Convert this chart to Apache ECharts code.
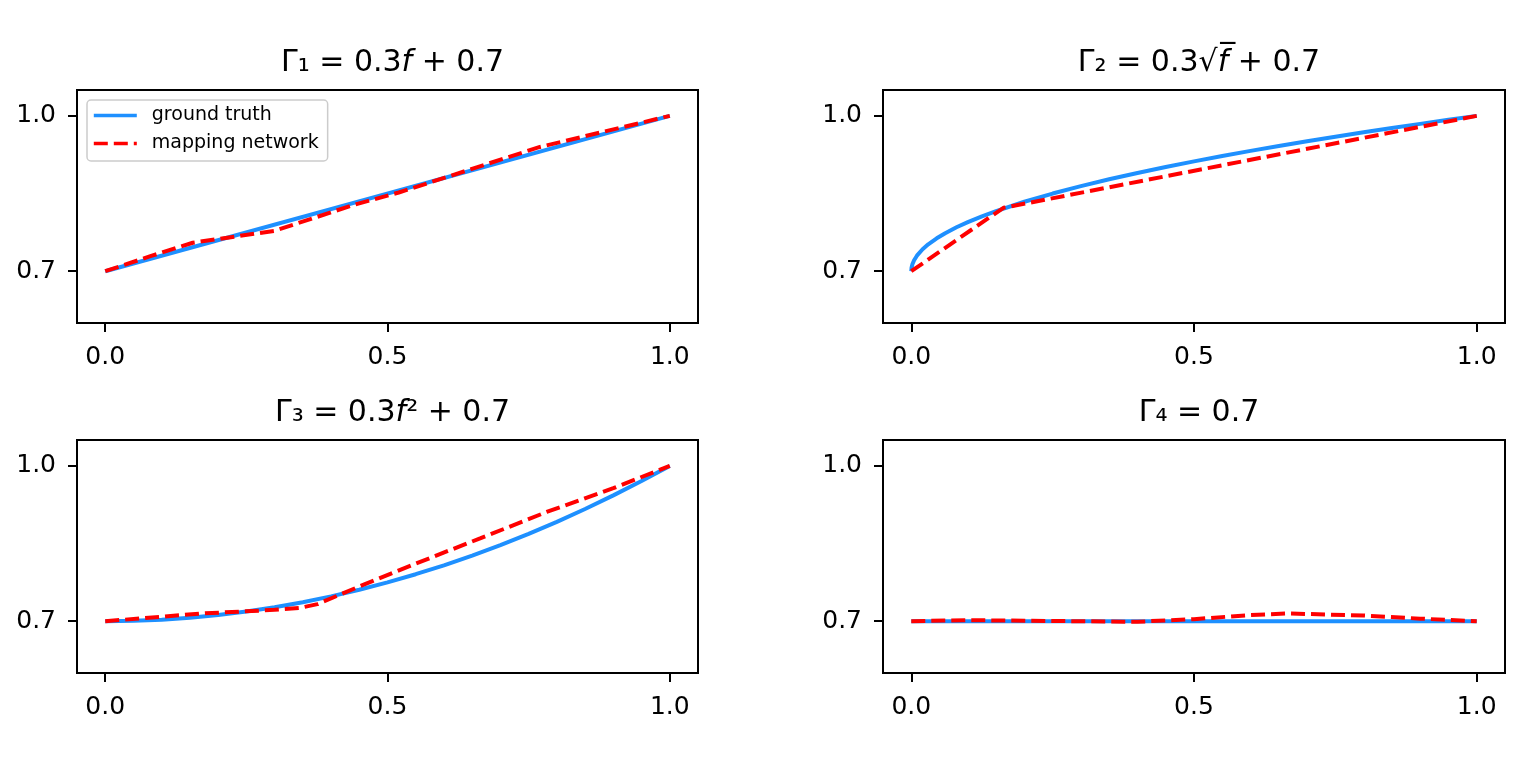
<!DOCTYPE html>
<html>
<head>
<meta charset="utf-8">
<script src="https://cdn.jsdelivr.net/npm/echarts@6/dist/echarts.min.js"></script>
<style>
  html, body { margin: 0; padding: 0; background: #fff; }
  #main { width: 1536px; height: 757px; }
</style>
</head>
<body>
<div id="main"></div>
<script>
// ground truth and network output, one pair per panel
var gt1X = [0, 1.0];
var gt1Y = [0.7, 1.0];
var map1X = [0, 0.08, 0.155, 0.3, 0.44, 0.52, 0.77, 1.0];
var map1Y = [0.7, 0.729, 0.755, 0.778, 0.828, 0.852, 0.94, 1.0];

var gt2X = [0, 0.0005, 0.002, 0.005, 0.01, 0.02, 0.03, 0.045, 0.06, 0.08, 0.1, 0.125, 0.15, 0.2, 0.25,
            0.3, 0.35, 0.4, 0.45, 0.5, 0.55, 0.6, 0.65, 0.7, 0.75, 0.8, 0.85, 0.9, 0.95, 1.0];
var gt2Y = [0.7, 0.7067, 0.7134, 0.7212, 0.73, 0.7424, 0.752, 0.7636, 0.7735, 0.7849, 0.7949, 0.8061, 0.8162, 0.8342, 0.85,
            0.8643, 0.8775, 0.8897, 0.9012, 0.9121, 0.9225, 0.9324, 0.9419, 0.951, 0.9598, 0.9683, 0.9766, 0.9846, 0.9924, 1.0];
var map2X = [0, 0.163, 1.0];
var map2Y = [0.7, 0.8225, 1.0];

var gt3X = [0, 0.05, 0.1, 0.15, 0.2, 0.25, 0.3, 0.35, 0.4, 0.45, 0.5,
            0.55, 0.6, 0.65, 0.7, 0.75, 0.8, 0.85, 0.9, 0.95, 1.0];
var gt3Y = [0.7, 0.7008, 0.703, 0.7068, 0.712, 0.7188, 0.727, 0.7368, 0.748, 0.7608, 0.775,
            0.7908, 0.808, 0.8268, 0.847, 0.8688, 0.892, 0.9168, 0.943, 0.9708, 1.0];
var map3X = [0, 0.17, 0.3, 0.346, 0.376, 0.452, 0.547, 0.664, 0.782, 0.9, 1.0];
var map3Y = [0.7, 0.7148, 0.722, 0.726, 0.733, 0.768, 0.81, 0.86, 0.911, 0.957, 1.0];

var gt4X = [0, 1.0];
var gt4Y = [0.7, 0.7];
var map4X = [0, 0.1, 0.2, 0.3, 0.4, 0.5, 0.6, 0.667, 0.8, 0.9, 1.0];
var map4Y = [0.7, 0.702, 0.701, 0.7, 0.699, 0.704, 0.712, 0.715, 0.711, 0.705, 0.7];

var xTicks = [0, 0.5, 1.0];
var yTicks = [0.7, 1.0];

var titles = [
  '{r|Γ₁ = 0.3}{i|f}{r| + 0.7}',
  '{r|Γ₂ = 0.3√}{i|f̅}{r| + 0.7}',
  '{r|Γ₃ = 0.3}{i|f}{r|² + 0.7}',
  '{r|Γ₄ = 0.7}'
];

var FONT = 'DejaVu Sans';
var BLUE = '#1E90FF';
var RED = '#FF0000';

function zip(xs, ys) {
  return xs.map(function (x, i) { return [x, ys[i]]; });
}

var grids = [
  { left: 77, top: 90, width: 621, height: 233 },
  { left: 883, top: 90, width: 622, height: 233 },
  { left: 77, top: 440, width: 621, height: 233 },
  { left: 883, top: 440, width: 622, height: 233 }
];

var xAxes = [], yAxes = [], series = [], titleList = [];
var gts = [[gt1X, gt1Y], [gt2X, gt2Y], [gt3X, gt3Y], [gt4X, gt4Y]];
var maps = [[map1X, map1Y], [map2X, map2Y], [map3X, map3Y], [map4X, map4Y]];

grids.forEach(function (g, i) {
  g.show = true;
  g.borderColor = '#000';
  g.borderWidth = 2;
  g.containLabel = false;

  xAxes.push({
    type: 'value', gridIndex: i, min: -0.05, max: 1.05, position: 'bottom',
    splitLine: { show: false },
    axisLine: { show: false, onZero: false },
    axisTick: { show: true, length: 9, lineStyle: { color: '#000', width: 2 }, customValues: xTicks },
    axisLabel: {
      customValues: xTicks, margin: 22, color: '#000', fontSize: 25, fontFamily: FONT,
      formatter: function (v) { return v.toFixed(1); }
    }
  });
  yAxes.push({
    type: 'value', gridIndex: i, min: 0.6, max: 1.05, position: 'left',
    splitLine: { show: false },
    axisLine: { show: false, onZero: false },
    axisTick: { show: true, length: 9, lineStyle: { color: '#000', width: 2 }, customValues: yTicks },
    axisLabel: {
      customValues: yTicks, margin: 21, color: '#000', fontSize: 25, fontFamily: FONT,
      formatter: function (v) { return v.toFixed(1); }
    }
  });

  series.push({
    name: 'ground truth', type: 'line', xAxisIndex: i, yAxisIndex: i,
    data: zip(gts[i][0], gts[i][1]),
    showSymbol: false, symbol: 'none',
    lineStyle: { color: BLUE, width: 4 }, itemStyle: { color: BLUE },
    z: 2, animation: false
  });
  series.push({
    name: 'mapping network', type: 'line', xAxisIndex: i, yAxisIndex: i,
    data: zip(maps[i][0], maps[i][1]),
    showSymbol: false, symbol: 'none',
    lineStyle: { color: RED, width: 4, type: [14, 6] }, itemStyle: { color: RED },
    z: 3, animation: false
  });

  titleList.push({
    text: titles[i],
    left: g.left + g.width / 2,
    top: g.top - 47,
    textAlign: 'center',
    textStyle: {
      fontWeight: 'normal',
      rich: {
        r: { fontFamily: FONT, fontSize: 30, color: '#000', fontWeight: 'normal' },
        i: { fontFamily: FONT, fontSize: 30, color: '#000', fontWeight: 'normal', fontStyle: 'italic' }
      }
    }
  });
});

var myChart = echarts.init(document.getElementById('main'));
var option = {
  backgroundColor: '#fff',
  animation: false,
  title: titleList,
  legend: {
    data: ['ground truth', 'mapping network'],
    orient: 'vertical',
    left: 87, top: 100,
    itemWidth: 43, itemHeight: 19, itemGap: 9,
    padding: [6, 9, 8, 5],
    backgroundColor: 'rgba(255,255,255,0.8)',
    borderColor: '#cccccc', borderWidth: 1.5, borderRadius: 4,
    itemStyle: { opacity: 0 },
    lineStyle: { width: 3.6 },
    textStyle: { fontFamily: FONT, fontSize: 19, color: '#000', padding: [0, 0, 0, 10] }
  },
  grid: grids,
  xAxis: xAxes,
  yAxis: yAxes,
  series: series
};
myChart.setOption(option);
</script>
</body>
</html>
